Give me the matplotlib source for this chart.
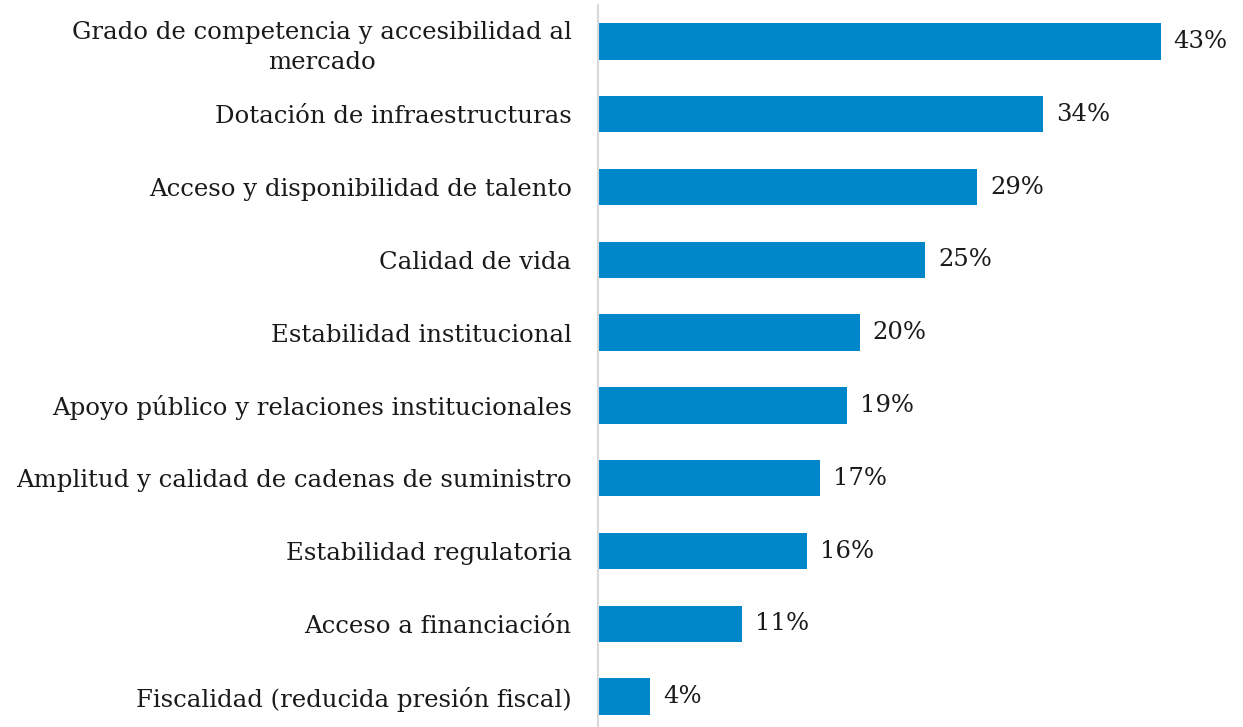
import matplotlib.pyplot as plt

# data
categories = [
    "Grado de competencia y accesibilidad al\nmercado",
    "Dotación de infraestructuras",
    "Acceso y disponibilidad de talento",
    "Calidad de vida",
    "Estabilidad institucional",
    "Apoyo público y relaciones institucionales",
    "Amplitud y calidad de cadenas de suministro",
    "Estabilidad regulatoria",
    "Acceso a financiación",
    "Fiscalidad (reducida presión fiscal)",
]
values = [43, 34, 29, 25, 20, 19, 17, 16, 11, 4]

plt.rcParams["font.family"] = ["DejaVu Serif"]

fig = plt.figure(figsize=(12.43, 7.27), dpi=100)
ax = fig.add_axes([598 / 1243, -6 / 727, 645 / 1243, 728 / 727])

pos = list(range(len(values)))
ax.barh(pos, values, height=0.5, color="#0087CA")

for p, v in zip(pos, values):
    ax.text(v + 1.0, p, f"{v}%", va="center", ha="left", fontsize=17.5, color="#1a1a1a")

ax.set_ylim(9.5, -0.5)
ax.set_xlim(0, 49.3)
ax.set_yticks(pos)
ax.set_yticklabels(categories, fontsize=17.6, color="#1a1a1a", ha="right",
                   multialignment="center", linespacing=1.4)
ax.tick_params(axis="y", length=0, pad=19)
ax.set_xticks([])

for s in ["top", "right", "bottom"]:
    ax.spines[s].set_visible(False)
ax.spines["left"].set_color("#d9d9d9")
ax.spines["left"].set_linewidth(1.5)

fig.savefig("out.png", dpi=100)
